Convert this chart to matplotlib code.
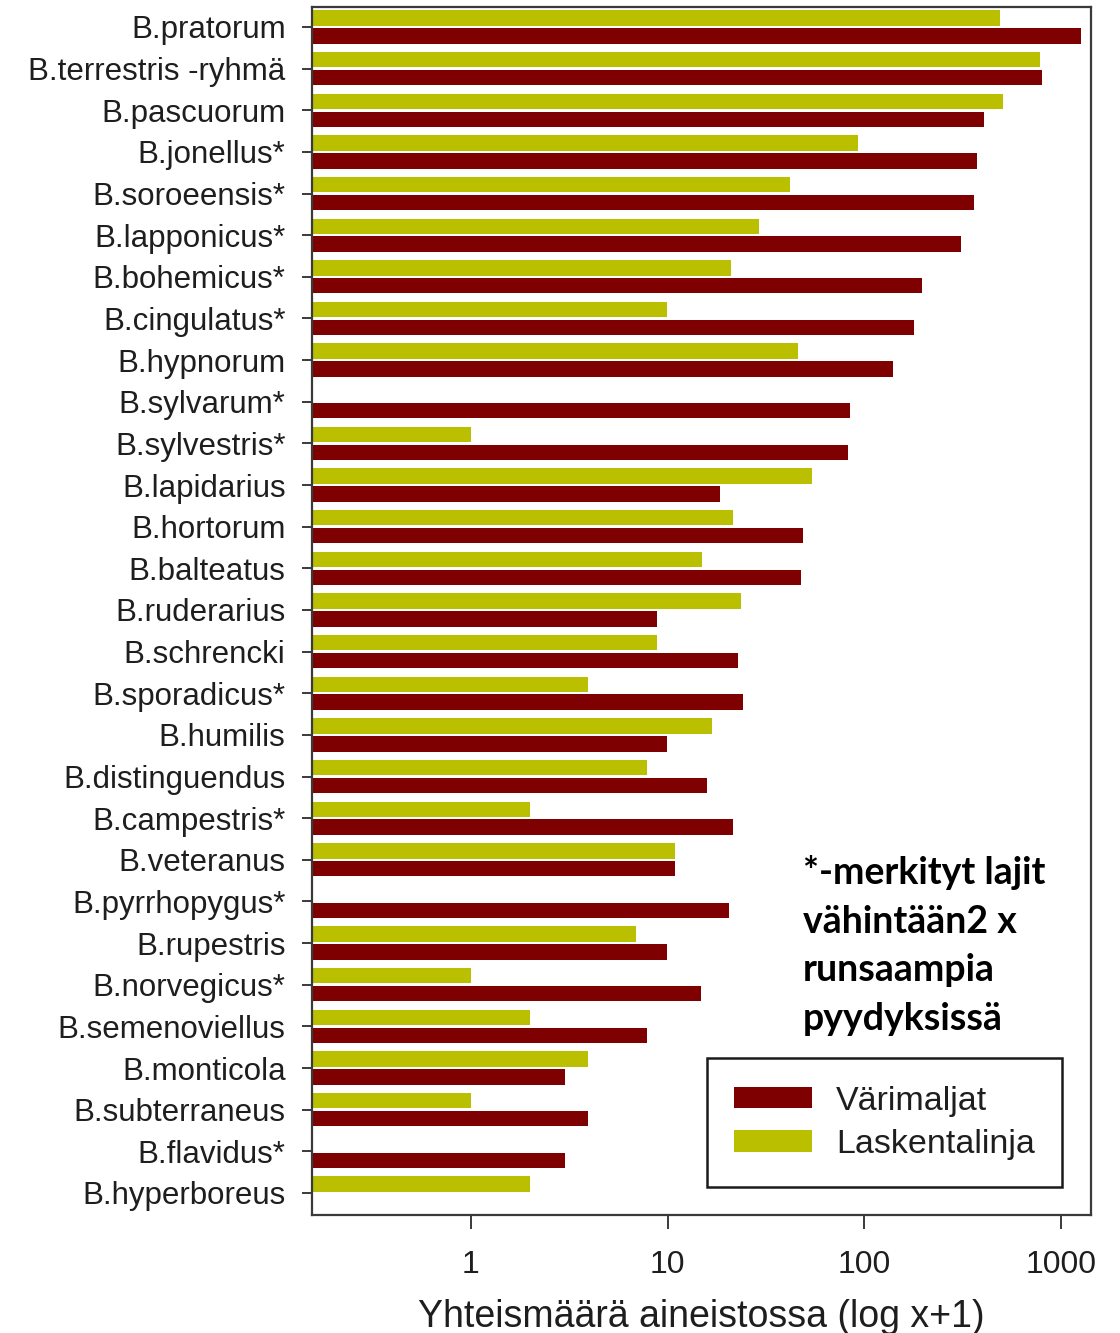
import numpy as np
import matplotlib
matplotlib.use("Agg")
import matplotlib.pyplot as plt
from matplotlib.patches import Patch

species = ["B.pratorum", "B.terrestris -ryhmä", "B.pascuorum", "B.jonellus*",
           "B.soroeensis*", "B.lapponicus*", "B.bohemicus*", "B.cingulatus*",
           "B.hypnorum", "B.sylvarum*", "B.sylvestris*", "B.lapidarius",
           "B.hortorum", "B.balteatus", "B.ruderarius", "B.schrencki",
           "B.sporadicus*", "B.humilis", "B.distinguendus", "B.campestris*",
           "B.veteranus", "B.pyrrhopygus*", "B.rupestris", "B.norvegicus*",
           "B.semenoviellus", "B.monticola", "B.subterraneus", "B.flavidus*",
           "B.hyperboreus"]

# Värimaljat (red) values, NaN = no bar
varimaljat = [1262, 796, 405, 373, 361, 310, 196, 179, 140, 85, 83, 18.5,
              49, 47.6, 8.8, 22.8, 24.2, 9.9, 15.8, 21.5, 10.9, 20.5, 9.9,
              14.7, 7.85, 3.0, 3.93, 3.0, np.nan]
# Laskentalinja (green) values
laskentalinja = [488, 781, 504, 93, 42, 29, 21, 9.9, 46, np.nan, 1.0, 54,
                 21.5, 14.9, 23.6, 8.8, 3.93, 16.8, 7.85, 2.0, 10.9, np.nan,
                 6.9, 1.0, 2.0, 3.93, 1.0, np.nan, 2.0]

xticks = [1, 10, 100, 1000]
xtick_labels = ["1", "10", "100", "1000"]
xlabel = "Yhteismäärä aineistossa (log x+1)"
note = "*-merkityt lajit\nvähintään2 x\nrunsaampia\npyydyksissä"
legend_labels = ["Värimaljat", "Laskentalinja"]

RED = "#7f0000"
GREEN = "#babf00"
TXT = "#1e1e1e"
SPINE = "#3a3a3a"

plt.rcParams["font.family"] = ["Liberation Sans", "DejaVu Sans"]

W, H = 1120, 1333
fig = plt.figure(figsize=(W / 100, H / 100), dpi=100)
left, right, top, bottom = 312, 1091, 7, 1215
ax = fig.add_axes([left / W, 1 - bottom / H, (right - left) / W, (bottom - top) / H])

y = np.arange(len(species))
v_red = np.array(varimaljat, dtype=float)
v_grn = np.array(laskentalinja, dtype=float)
off, h = 0.215, 0.37
m_r = ~np.isnan(v_red)
m_g = ~np.isnan(v_grn)
ax.barh(y[m_g] - off, v_grn[m_g], height=h, color=GREEN, linewidth=0)
ax.barh(y[m_r] + off, v_red[m_r], height=h, color=RED, linewidth=0)

ax.set_xscale("log")
ax.set_xlim(0.1555, 1420)
ax.set_ylim(len(species) - 1 + 0.53, -0.48)

ax.set_yticks(y)
ax.set_yticklabels(species, fontsize=22.5, color=TXT)
ax.set_xticks(xticks)
ax.set_xticklabels(xtick_labels, fontsize=23, color=TXT)
ax.xaxis.set_minor_locator(matplotlib.ticker.NullLocator())
ax.tick_params(axis="y", length=7, width=1.4, color=SPINE, pad=12)
ax.tick_params(axis="x", length=10, width=1.4, color=SPINE, pad=15)
ax.set_xlabel(xlabel, fontsize=27, color=TXT, labelpad=14)

for s in ax.spines.values():
    s.set_color(SPINE)
    s.set_linewidth(1.6)

handles = [Patch(facecolor=RED, edgecolor="none"),
           Patch(facecolor=GREEN, edgecolor="none")]
leg = ax.legend(handles, legend_labels, loc="lower left",
                bbox_to_anchor=(0.507, 0.0232), fontsize=24.5,
                frameon=True, fancybox=False, framealpha=1,
                edgecolor="#1a1a1a", handlelength=2.3, handleheight=0.6,
                handletextpad=0.7, labelspacing=0.36, borderpad=0.8,
                borderaxespad=0)
leg.get_frame().set_linewidth(1.8)
for t in leg.get_texts():
    t.set_color(TXT)

fig.text(803 / W, 1 - 855 / H, note, fontsize=27, fontweight="bold",
         family=["Lato", "DejaVu Sans"], color="black", va="top", ha="left",
         linespacing=1.52)

fig.savefig("out.png", dpi=100)
